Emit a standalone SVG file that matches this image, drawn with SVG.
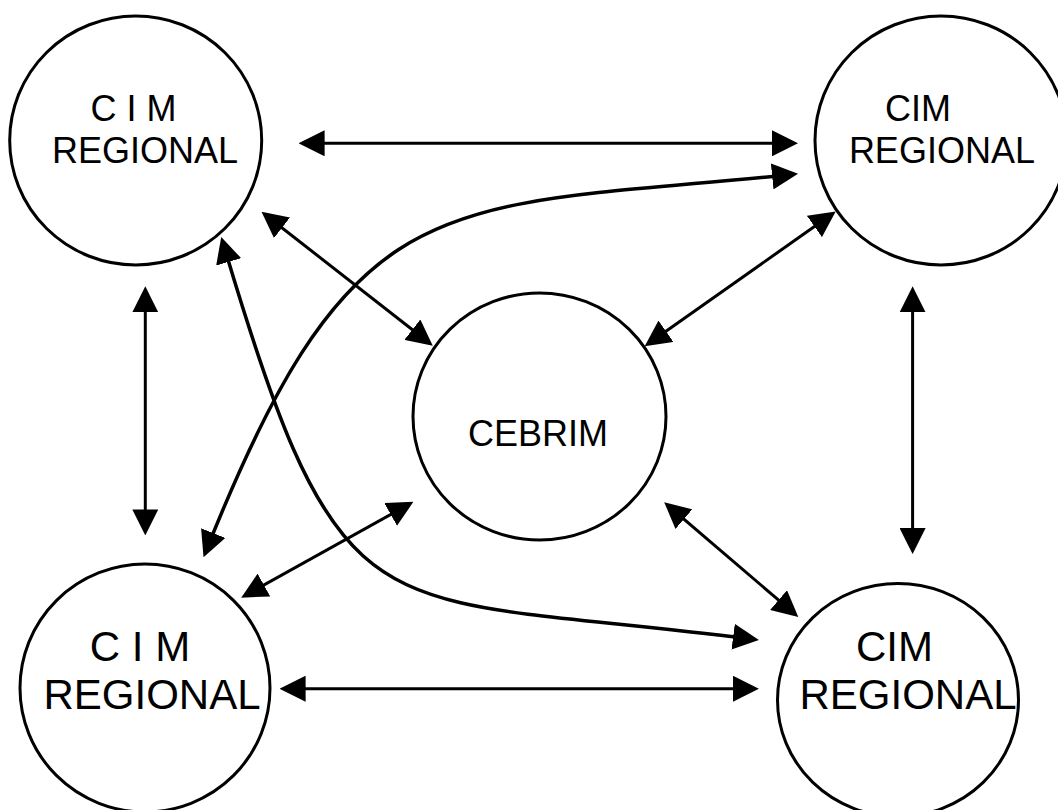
<svg xmlns="http://www.w3.org/2000/svg" width="1058" height="810" viewBox="0 0 1058 810">
<style>
.node{fill:#fff;stroke:#000;stroke-width:3}
.t36{font-family:"Liberation Sans",Arial,sans-serif;font-size:36px;fill:#000;text-anchor:middle}
.t42{font-family:"Liberation Sans",Arial,sans-serif;font-size:42px;fill:#000;text-anchor:middle}
.ln{fill:none;stroke:#000;stroke-width:3;marker-start:url(#ah);marker-end:url(#ah)}
.cv{fill:none;stroke:#000;stroke-width:3.5;marker-start:url(#ah);marker-end:url(#ah)}
</style>
<defs>
<marker id="ah" markerUnits="userSpaceOnUse" markerWidth="26" markerHeight="26" viewBox="0 0 25 25" refX="15" refY="12.5" orient="auto-start-reverse">
<path d="M0,0 L25,12.5 L0,25 z" fill="#000"/>
</marker>
</defs>
<rect width="1058" height="810" fill="#fff"/>
<g id="node-tl">
<ellipse class="node" cx="135.7" cy="140.5" rx="126" ry="124.5"/>
<text class="t36" x="133.4" y="120.7">C I M</text>
<text class="t36" x="145" y="163.3">REGIONAL</text>
</g>
<g id="node-tr">
<ellipse class="node" cx="941" cy="140.5" rx="126" ry="124.5"/>
<text class="t36" x="917.9" y="120.7">CIM</text>
<text class="t36" x="941.9" y="163.3">REGIONAL</text>
</g>
<g id="node-cebrim">
<ellipse class="node" cx="539.5" cy="416.5" rx="126.5" ry="123.5"/>
<text class="t36" x="538" y="446">CEBRIM</text>
</g>
<g id="node-bl">
<ellipse class="node" cx="145" cy="688" rx="125" ry="124"/>
<text class="t42" x="140" y="660.7">C I M</text>
<text class="t42" x="152" y="709">REGIONAL</text>
</g>
<g id="node-br">
<ellipse class="node" cx="898" cy="700" rx="120.5" ry="116.5"/>
<text class="t42" x="894.5" y="660.7">CIM</text>
<text class="t42" x="908" y="709">REGIONAL</text>
</g>
<g id="connectors">
<line class="ln" x1="309" y1="143.3" x2="787.6" y2="143.3"/>
<line class="ln" x1="269.7" y1="218.2" x2="424.6" y2="339.3"/>
<line class="ln" x1="827.2" y1="217.5" x2="653.2" y2="340.2"/>
<line class="ln" x1="145.3" y1="296.7" x2="145.3" y2="525"/>
<line class="ln" x1="912.6" y1="296.7" x2="912.6" y2="543.7"/>
<line class="ln" x1="250.3" y1="592.6" x2="404.3" y2="506.9"/>
<line class="ln" x1="672.1" y1="509" x2="790.4" y2="610.2"/>
<line class="ln" x1="290" y1="688.7" x2="748.5" y2="688.7"/>
<path class="cv" d="M207.4,547.6 C355,178 439.5,209.9 787.7,174.9"/>
<path class="cv" d="M224.2,246.9 C343.9,649.7 371.6,590.4 748.6,638.7"/>
</g>
</svg>
